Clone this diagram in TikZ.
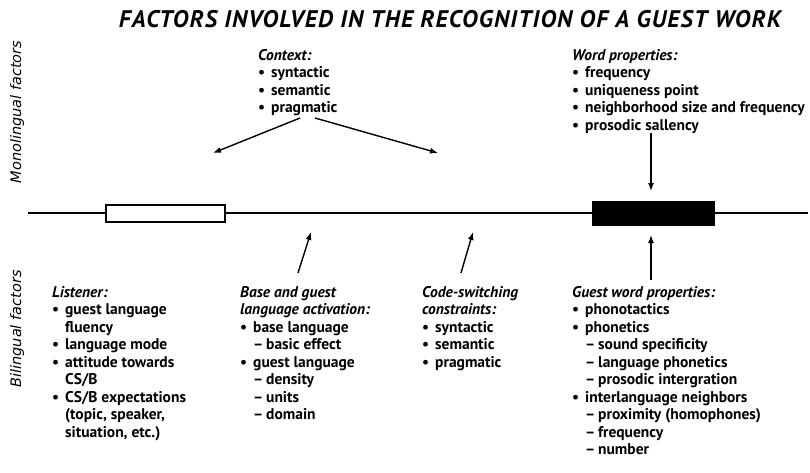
\documentclass[tikz,border=0pt]{standalone}
\usepackage{fontspec}
\setmainfont{PT Sans}
\newfontfamily\sidefont{DejaVu Sans}
\newfontfamily\titlefont[LetterSpace=5]{PT Sans}
\usetikzlibrary{arrows.meta}

% list helpers: bullet item, dash sub-item, continuation indent
\newcommand\bul{\makebox[13pt][l]{•}}
\newcommand\sbul{\hspace*{13pt}\makebox[13pt][l]{–}}
\newcommand\ind{\hspace*{13pt}}
\newcommand\hd[1]{{\itshape #1}}

\begin{document}
\begin{tikzpicture}[x=1pt,y=-1pt,
  block/.style={anchor=north west,inner sep=0pt,align=left,
    font=\bfseries\fontsize{15.5}{17.5}\selectfont},
  side/.style={rotate=90,inner sep=0pt,font=\sidefont\itshape\fontsize{14.5}{16}\selectfont},
  arr/.style={line width=1.4pt,-{Latex[length=8pt,width=6pt]}},
  axis/.style={line width=2pt}
]
\useasboundingbox (0,0) rectangle (810,473);

% title and side labels
\node[inner sep=0pt,font=\titlefont\bfseries\itshape\fontsize{24}{26}\selectfont] (title) at (450,19)
  {FACTORS INVOLVED IN THE RECOGNITION OF A GUEST WORK};
\node[side] (mono) at (17,112) {Monolingual factors};
\node[side] (bili) at (17,329) {Bilingual factors};

% the time line with its two boxes
\coordinate (lineL) at (28,213);
\coordinate (lineR) at (808,213);
\node[draw,line width=2pt,fill=white,minimum width=119pt,minimum height=17pt,inner sep=0pt] (wbox) at (165.5,213) {};
\node[draw,line width=1pt,fill=black,minimum width=122pt,minimum height=24pt,inner sep=0pt] (bbox) at (653,213) {};
\draw[axis] (lineL) -- (wbox.west);
\draw[axis] (wbox.east) -- (bbox.west);
\draw[axis] (bbox.east) -- (lineR);

% monolingual factors
\node[block] (context) at (258,49) {\hd{Context:}\\
  \bul syntactic\\
  \bul semantic\\
  \bul pragmatic};
\node[block] (wordprop) at (572,49) {\hd{Word properties:}\\
  \bul frequency\\
  \bul uniqueness point\\
  \bul neighborhood size and frequency\\
  \bul prosodic sallency};

% bilingual factors
\node[block] (listener) at (52,286) {\hd{Listener:}\\
  \bul guest language\\
  \ind fluency\\
  \bul language mode\\
  \bul attitude towards\\
  \ind CS/B\\
  \bul CS/B expectations\\
  \ind (topic, speaker,\\
  \ind situation, etc.)};
\node[block] (activation) at (240,286) {\hd{Base and guest}\\
  \hd{language activation:}\\
  \bul base language\\
  \sbul basic effect\\
  \bul guest language\\
  \sbul density\\
  \sbul units\\
  \sbul domain};
\node[block] (codesw) at (422,286) {\hd{Code-switching}\\
  \hd{constraints:}\\
  \bul syntactic\\
  \bul semantic\\
  \bul pragmatic};
\node[block] (guestprop) at (572,286) {\hd{Guest word properties:}\\
  \bul phonotactics\\
  \bul phonetics\\
  \sbul sound specificity\\
  \sbul language phonetics\\
  \sbul prosodic intergration\\
  \bul interlanguage neighbors\\
  \sbul proximity (homophones)\\
  \sbul frequency\\
  \sbul number};

% arrow end points
\coordinate (ctxA) at (300,118);
\coordinate (ctxB) at (315,118);
\coordinate (ctxL) at (213,153);
\coordinate (ctxR) at (438,153);
\coordinate (wpS) at (651,133);
\coordinate (wpT) at (651,191);
\coordinate (actS) at (298,273);
\coordinate (actT) at (311,232);
\coordinate (csS) at (461,273);
\coordinate (csT) at (473,232);
\coordinate (gwS) at (651,280);
\coordinate (gwT) at (651,235);

\draw[arr] (ctxA) -- (ctxL);
\draw[arr] (ctxB) -- (ctxR);
\draw[arr] (wpS) -- (wpT);
\draw[arr] (actS) -- (actT);
\draw[arr] (csS) -- (csT);
\draw[arr] (gwS) -- (gwT);
\end{tikzpicture}
\end{document}
